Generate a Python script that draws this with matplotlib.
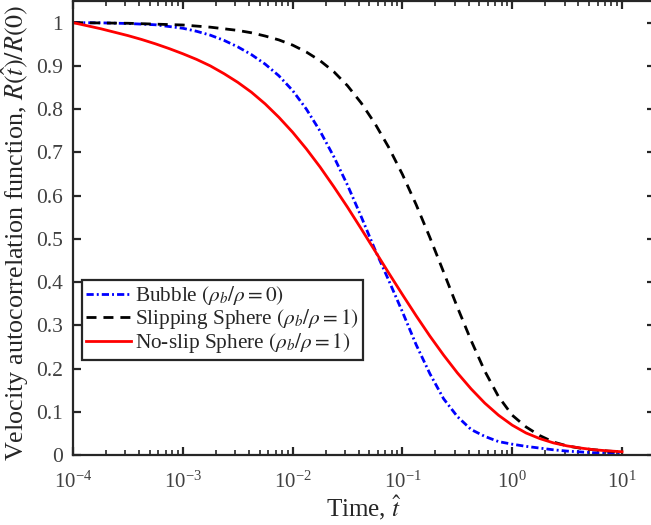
import numpy as np
import matplotlib
matplotlib.use("Agg")
import matplotlib.pyplot as plt
from matplotlib.ticker import LogLocator, LogFormatterMathtext, FixedLocator, FuncFormatter, NullFormatter

plt.rcParams['font.family'] = ['Liberation Serif', 'DejaVu Serif']
plt.rcParams['mathtext.fontset'] = 'stix'

# --- data (log10 of time, velocity autocorrelation R(t)/R(0)) ---
bubble_logt = [-4.0, -3.75, -3.5, -3.25, -3.0, -2.875, -2.75, -2.625, -2.5, -2.375, -2.25,
               -2.125, -2.0, -1.875, -1.75, -1.625, -1.5, -1.375, -1.25, -1.125, -1.0,
               -0.875, -0.75, -0.625, -0.5, -0.375, -0.25, -0.125, 0.0, 0.125, 0.25,
               0.375, 0.5, 0.625, 0.75, 0.875, 1.0]
bubble_R = [1.0, 0.9995, 0.998, 0.995, 0.987, 0.980, 0.971, 0.959, 0.944, 0.926, 0.904,
            0.877, 0.843, 0.800, 0.749, 0.690, 0.624, 0.551, 0.475, 0.404, 0.331,
            0.255, 0.188, 0.130, 0.089, 0.059, 0.043, 0.031, 0.025, 0.020, 0.016,
            0.012, 0.009, 0.007, 0.005, 0.004, 0.003]

slip_logt = [-4.0, -3.5, -3.0, -2.75, -2.5, -2.375, -2.25, -2.125, -2.0, -1.875, -1.75,
             -1.625, -1.5, -1.375, -1.25, -1.125, -1.0, -0.875, -0.75, -0.625, -0.5,
             -0.375, -0.25, -0.125, 0.0, 0.125, 0.25, 0.375, 0.5, 0.625, 0.75, 0.875, 1.0]
slip_R = [1.0, 0.9985, 0.9945, 0.9895, 0.982, 0.9765, 0.969, 0.960, 0.948, 0.932, 0.912,
          0.8865, 0.854, 0.814, 0.7665, 0.7115, 0.649, 0.579, 0.503, 0.423, 0.342,
          0.265, 0.194, 0.135, 0.092, 0.065, 0.045, 0.030, 0.021, 0.0155, 0.012, 0.009, 0.007]

noslip_logt = [-4.0, -3.875, -3.75, -3.625, -3.5, -3.375, -3.25, -3.125, -3.0, -2.875, -2.75,
               -2.625, -2.5, -2.375, -2.25, -2.125, -2.0, -1.875, -1.75, -1.625, -1.5,
               -1.375, -1.25, -1.125, -1.0, -0.875, -0.75, -0.625, -0.5, -0.375, -0.25,
               -0.125, 0.0, 0.125, 0.25, 0.375, 0.5, 0.625, 0.75, 0.875, 1.0]
noslip_R = [1.0, 0.993, 0.986, 0.978, 0.970, 0.961, 0.951, 0.940, 0.928, 0.915, 0.900,
            0.882, 0.862, 0.839, 0.812, 0.781, 0.7465, 0.708, 0.666, 0.6205, 0.573,
            0.523, 0.472, 0.421, 0.371, 0.322, 0.275, 0.231, 0.190, 0.153, 0.120,
            0.092, 0.069, 0.051, 0.038, 0.028, 0.021, 0.016, 0.012, 0.0095, 0.0075]

labels = [r'Bubble $(\rho_b/\rho = 0)$',
          r'Slipping Sphere $(\rho_b/\rho = 1)$',
          r'No-slip Sphere $(\rho_b/\rho = 1)$']
yticks = [0, 0.1, 0.2, 0.3, 0.4, 0.5, 0.6, 0.7, 0.8, 0.9, 1.0]

W, H = 651, 525
fig = plt.figure(figsize=(W / 100, H / 100), dpi=100)
ax = fig.add_axes([73 / W, 70 / H, (655 - 73) / W, (455 - 1) / H])

lw = 2.0
ax.plot(10 ** np.array(bubble_logt), bubble_R, color=(0, 0, 1), lw=lw,
        dashes=(2.6, 1.1, 0.7, 1.1), label=labels[0])
ax.plot(10 ** np.array(slip_logt), slip_R, color='k', lw=lw,
        dashes=(3.6, 2.5), label=labels[1])
ax.plot(10 ** np.array(noslip_logt), noslip_R, color=(1, 0, 0), lw=lw,
        label=labels[2])

ax.set_xscale('log')
ax.set_xlim(1e-4, 10 ** 1.3)
ax.set_ylim(0, 1.05)

axcol = '#262626'
for s in ax.spines.values():
    s.set_linewidth(1.6)
    s.set_color(axcol)

ax.xaxis.set_major_locator(LogLocator(base=10, numticks=20))
ax.xaxis.set_major_formatter(LogFormatterMathtext())
ax.xaxis.set_minor_locator(LogLocator(base=10, subs=np.arange(2, 10), numticks=100))
ax.xaxis.set_minor_formatter(NullFormatter())
ax.yaxis.set_major_locator(FixedLocator(yticks))
ax.yaxis.set_major_formatter(FuncFormatter(lambda v, p: '%g' % v))

ax.tick_params(which='both', direction='in', top=True, right=True, color=axcol,
               labelcolor='#404040')
ax.tick_params(which='major', length=6, width=1.6)
ax.tick_params(which='minor', length=3.5, width=1.2)
ax.tick_params(axis='y', labelsize=15.5, pad=7)
ax.tick_params(axis='x', labelsize=15, pad=12)

ax.set_xlabel(r'Time, $\hat{t}$', fontsize=18, color='#262626', labelpad=0)
ax.set_ylabel(r'Velocity autocorrelation function, $R(\hat{t})/R(0)$', fontsize=18.8,
              color='#262626')
ax.yaxis.set_label_coords(-0.072, 0.49)

leg = ax.legend(loc='upper left', bbox_to_anchor=(0.0155, 0.385), fontsize=15.3,
                frameon=True, fancybox=False, framealpha=1, edgecolor=axcol,
                handlelength=2.1, handletextpad=0.2, borderpad=0.2,
                labelspacing=0.0, borderaxespad=0)
leg.get_frame().set_linewidth(1.6)
for t in leg.get_texts():
    t.set_color('#262626')

fig.savefig('out.png', dpi=100)
